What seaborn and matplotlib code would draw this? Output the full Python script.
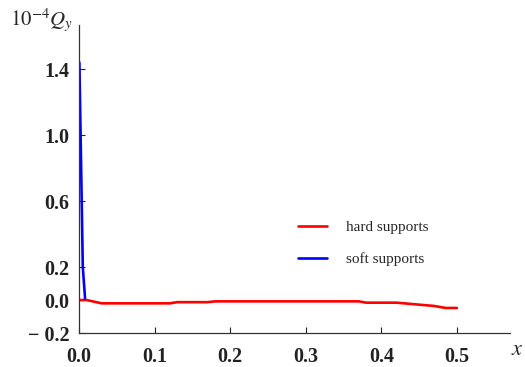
import pandas as pd
import matplotlib.pyplot as plt
import seaborn as sns

## Data ##
hard_x = [0.0, 0.01, 0.03, 0.12, 0.13, 0.17, 0.18, 0.37, 0.38, 0.42, 0.44, 0.47, 0.485, 0.5]
hard_y = [0.0, 0.0, -0.02, -0.02, -0.013, -0.013, -0.008, -0.008, -0.016, -0.016, -0.024, -0.036, -0.048, -0.048]
soft_x = [0.0005, 0.005, 0.008]
soft_y = [1.44, 0.2, 0.01]

x_ticks = [0.0, 0.1, 0.2, 0.3, 0.4, 0.5]
y_ticks = [-0.2, 0.0, 0.2, 0.6, 1.0, 1.4]
y_ticklabels = ["\u2212 0.2", "0.0", "0.2", "0.6", "1.0", "1.4"]

df = pd.concat([
    pd.DataFrame({"x": hard_x, "y": hard_y, "support": "hard supports"}),
    pd.DataFrame({"x": soft_x, "y": soft_y, "support": "soft supports"}),
], ignore_index=True)

## Styles ##
sns.set_style("ticks")
plt.rcParams['font.family'] = ['Liberation Serif', 'DejaVu Serif']
plt.rcParams['mathtext.fontset'] = 'stix'

fig = plt.figure(figsize=(5.25, 3.67), dpi=100)
ax = fig.add_axes([0.1505, 0.0926, 0.8205, 0.8394])

sns.lineplot(data=df, x="x", y="y", hue="support", sort=False, estimator=None,
             palette={"hard supports": "#ff0000", "soft supports": "#0000ff"},
             linewidth=1.9, ax=ax)

ax.set_xlim(0.0, 0.57)
ax.set_ylim(-0.2, 1.668)
ax.set_xticks(x_ticks)
ax.set_xticklabels([f"{v:.1f}" for v in x_ticks])
ax.set_yticks(y_ticks)
ax.set_yticklabels(y_ticklabels)
ax.tick_params(direction="in", length=4, width=0.8, labelsize=14.5, colors="#222222")
for lab in ax.get_xticklabels() + ax.get_yticklabels():
    lab.set_fontweight("bold")
ax.tick_params(axis="y", pad=7)
ax.tick_params(axis="x", pad=10)
ax.set_xlabel("")
ax.set_ylabel("")
sns.despine(ax=ax)
for s in ("left", "bottom"):
    ax.spines[s].set_linewidth(0.9)
    ax.spines[s].set_color("#333333")

leg = ax.legend(loc="upper left", bbox_to_anchor=(0.477, 0.41), frameon=False,
                fontsize=11, handlelength=1.9, handletextpad=1.2, labelspacing=1.2)

fig.text(0.02, 0.945, r"$10^{-4}Q_y$", fontsize=15, ha="left", va="center")
fig.text(0.985, 0.045, r"$x$", fontsize=16, ha="center", va="center")

plt.savefig("out.png", dpi=100)
